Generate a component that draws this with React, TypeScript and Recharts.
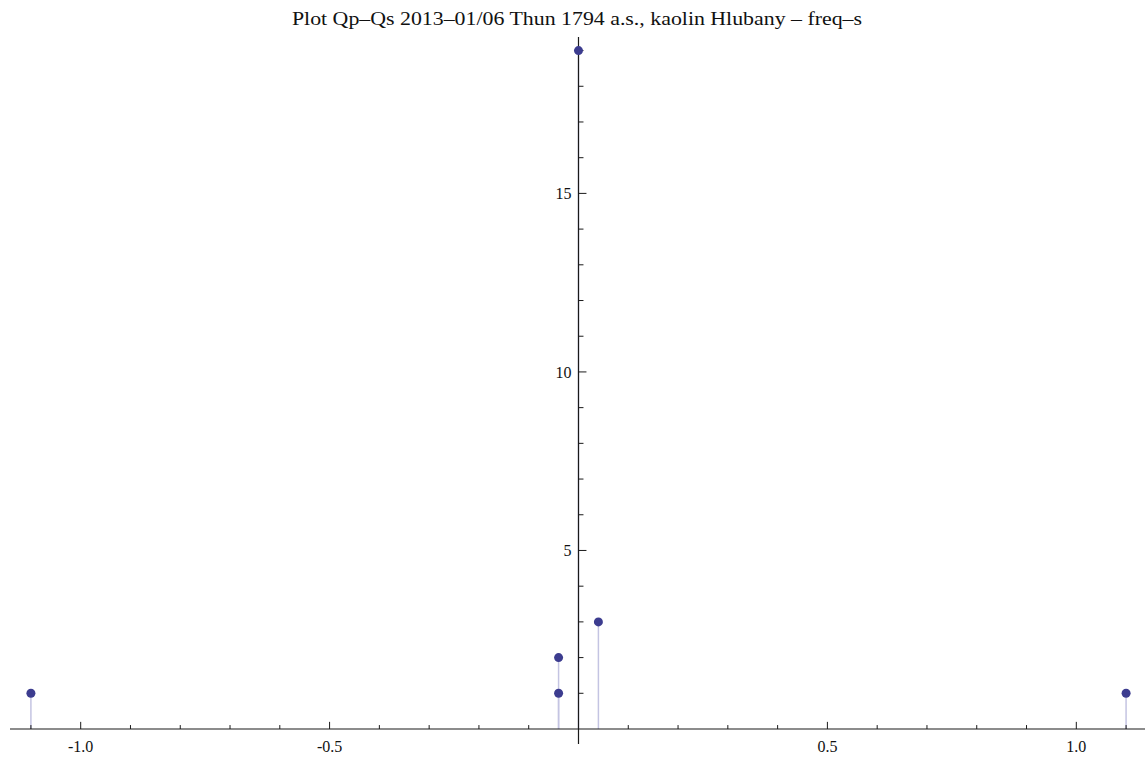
import { ReferenceLine, Scatter, ScatterChart, XAxis, YAxis } from "recharts";

// ---- data ---------------------------------------------------------------
const freqX = [-1.1, -0.04, -0.04, 0, 0.04, 1.1];
const freqY = [1, 1, 2, 19, 3, 1];

const xMajor = [-1, -0.5, 0.5, 1];
const xMajorLabels = ["-1.0", "-0.5", "0.5", "1.0"];
const xMinor = [
  -1.1, -0.9, -0.8, -0.7, -0.6, -0.4, -0.3, -0.2, -0.1, 0.1, 0.2, 0.3, 0.4,
  0.6, 0.7, 0.8, 0.9, 1.1,
];
const yMajor = [5, 10, 15];
const yMajorLabels = ["5", "10", "15"];
const yMinor = [1, 2, 3, 4, 6, 7, 8, 9, 11, 12, 13, 14, 16, 17, 18, 19];

const X_DOMAIN: [number, number] = [-1.142, 1.138];
const Y_DOMAIN: [number, number] = [-0.42, 19.38];

const points = freqX.map((x, i) => ({ x, y: freqY[i] }));

// ---- styling ------------------------------------------------------------
const DOT = "#3c3c8f";
const FILL = "#c4c4e2";
const AXIS = "#1a1a1a";
const SERIF = "'Liberation Serif', 'Times New Roman', serif";

// tick lengths in data units (x ticks grow up, y ticks grow right)
const X_TICK_MAJOR = 0.2;
const X_TICK_MINOR = 0.11;
const Y_TICK_MAJOR = 0.016;
const Y_TICK_MINOR = 0.01;

const labelStyle = { fill: "#111", fontSize: 16, fontFamily: SERIF };

export default function App() {
  return (
    <div
      style={{
        position: "absolute",
        left: 0,
        top: 0,
        width: 1145,
        height: 761,
        background: "#fff",
      }}
    >
      <div
        style={{
          position: "absolute",
          left: 0,
          width: 1154,
          top: 8,
          textAlign: "center",
          fontFamily: SERIF,
          fontSize: 19,
          color: "#111",
          whiteSpace: "nowrap",
          transform: "scaleX(1.15)",
          transformOrigin: "577px 0",
        }}
      >
        Plot Qp–Qs 2013–01/06 Thun 1794 a.s., kaolin Hlubany – freq–s
      </div>
      <ScatterChart
        width={1145}
        height={761}
        margin={{ top: 37, right: 0, bottom: 17, left: 10 }}
      >
        <XAxis
          type="number"
          dataKey="x"
          domain={X_DOMAIN}
          allowDataOverflow
          hide
        />
        <YAxis
          type="number"
          dataKey="y"
          domain={Y_DOMAIN}
          allowDataOverflow
          hide
        />

        {/* filling from each point down to the axis */}
        {points.map((p, i) => (
          <ReferenceLine
            key={`fill-${i}`}
            segment={[
              { x: p.x, y: 0 },
              { x: p.x, y: p.y },
            ]}
            stroke={FILL}
            strokeWidth={1.5}
          />
        ))}

        {/* axes crossing at the origin */}
        <ReferenceLine y={0} stroke={AXIS} strokeWidth={1.2} />
        <ReferenceLine x={0} stroke={AXIS} strokeWidth={1.2} />

        {xMinor.map((t) => (
          <ReferenceLine
            key={`xm-${t}`}
            segment={[
              { x: t, y: 0 },
              { x: t, y: X_TICK_MINOR },
            ]}
            stroke={AXIS}
          />
        ))}
        {xMajor.map((t, i) => (
          <ReferenceLine
            key={`xM-${t}`}
            segment={[
              { x: t, y: 0 },
              { x: t, y: X_TICK_MAJOR },
            ]}
            stroke={AXIS}
            label={{
              value: xMajorLabels[i],
              position: "bottom",
              offset: 12,
              ...labelStyle,
            }}
          />
        ))}
        {yMinor.map((t) => (
          <ReferenceLine
            key={`ym-${t}`}
            segment={[
              { x: 0, y: t },
              { x: Y_TICK_MINOR, y: t },
            ]}
            stroke={AXIS}
          />
        ))}
        {yMajor.map((t, i) => (
          <ReferenceLine
            key={`yM-${t}`}
            segment={[
              { x: 0, y: t },
              { x: Y_TICK_MAJOR, y: t },
            ]}
            stroke={AXIS}
            label={{
              value: yMajorLabels[i],
              position: "left",
              offset: 7,
              ...labelStyle,
            }}
          />
        ))}

        <Scatter
          data={points}
          isAnimationActive={false}
          shape={(p: any) => <circle cx={p.cx} cy={p.cy} r={4.5} fill={DOT} />}
        />
      </ScatterChart>
    </div>
  );
}
